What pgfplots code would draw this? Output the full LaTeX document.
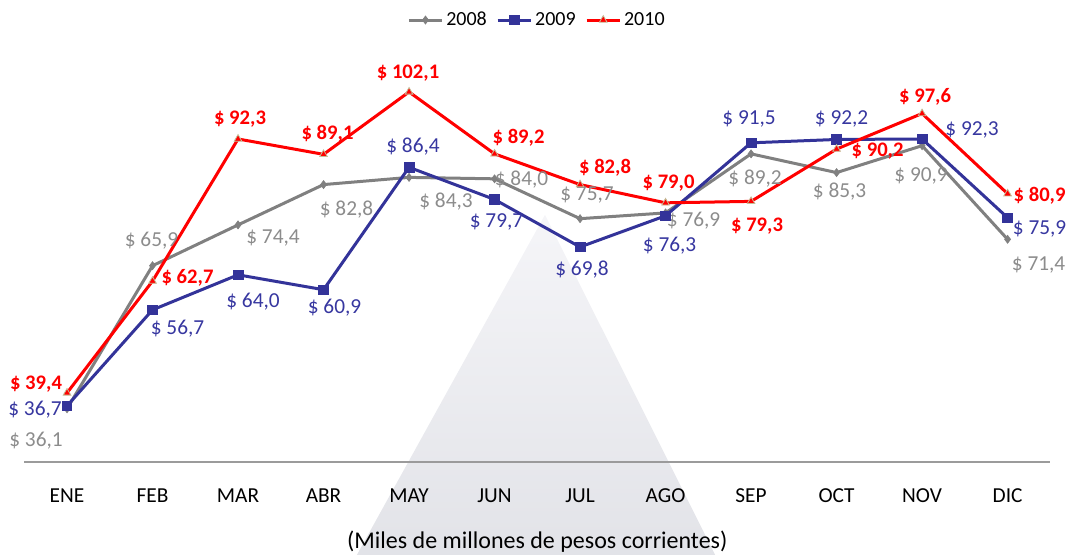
\documentclass[border=0pt]{standalone}
\usepackage{pgfplots}
\pgfplotsset{compat=1.18}
\usepackage{pgfplotstable}
\usepackage{fontspec}
\setmainfont{Carlito}
\definecolor{cg}{RGB}{128,128,128}
\definecolor{cgl}{RGB}{140,140,140}
\definecolor{cb}{RGB}{51,51,153}
\definecolor{cbl}{RGB}{55,55,160}
\definecolor{cr}{RGB}{255,0,0}
\definecolor{ctan}{RGB}{196,189,151}
\definecolor{wmtop}{RGB}{245,245,248}
\definecolor{wmbot}{RGB}{226,227,232}
\definecolor{axc}{RGB}{155,155,155}

\pgfplotstableread{
x y dx dy
0 36.1 -31 -31
1 65.9 -1 26
2 74.4 35 -12
3 82.8 23 -24
4 84.3 37 -23
5 84.0 27 0
6 75.7 7 25
7 76.9 28 -7
8 89.2 4 -24
9 85.3 3 -18
10 90.9 -1 -29
11 71.4 31 -24
}\tA

\pgfplotstableread{
x y dx dy
0 36.7 -32 -3
1 56.7 25 -18
2 64.0 15 -26
3 60.9 11 -17
4 86.4 4 22
5 79.7 2 -21
6 69.8 2 -22
7 76.3 4 -29
8 91.5 -2 25
9 92.2 5 22
10 92.3 50 10
11 75.9 32 -10
}\tB

\pgfplotstableread{
x y dx dy
0 39.4 -31 10
1 62.7 35 5
2 92.3 2 21
3 89.1 4 22
4 102.1 -1 20
5 89.2 24 17
6 82.8 25 18
7 79.0 3 21
8 79.3 6 -23
9 90.2 41 0
10 97.6 3 18
11 80.9 32 -1
}\tC

\begin{document}
\begin{tikzpicture}
\begin{axis}[
  scale only axis, width=769.5pt, height=306pt,
  xmin=-0.5, xmax=11.5, ymin=25, ymax=110,
  axis x line=bottom, axis y line=none,
  x axis line style={-, draw=axc, line width=0.9pt},
  axis on top,
  clip=false,
  xtick={0,...,11},
  xticklabels={ENE,FEB,MAR,ABR,MAY,JUN,JUL,AGO,SEP,OCT,NOV,DIC},
  major tick length=0pt,
  ytick=\empty,
  /pgf/number format/assume math mode=true,
  xticklabel style={anchor=center, yshift=-24.75pt, text height=10.5pt, text depth=0pt, font=\fontsize{16}{19}\selectfont, text=black},
  xlabel={(Miles de millones de pesos corrientes)},
  xlabel style={at={(axis description cs:0.5,0)}, anchor=center, yshift=-60pt, font=\fontsize{18}{21}\selectfont, text=black},
  legend style={at={(axis description cs:0.5,1)}, anchor=center, yshift=25.5pt, draw=none, fill=none,
    legend columns=3, font=\fontsize{15}{18}\selectfont,
    /tikz/every even column/.style={column sep=5pt}},
  legend image code/.code={\draw[mark repeat=2,mark phase=2,#1] plot coordinates {(0pt,0pt) (12.5pt,0pt) (25pt,0pt)};},
  visualization depends on={\thisrow{dx} \as \myDX},
  visualization depends on={\thisrow{dy} \as \myDY},
  nodes near coords={\$ \pgfmathprintnumber[fixed,fixed zerofill,precision=1,use comma]{\pgfplotspointmeta}},
  every node near coord/.append style={anchor=center, xshift=\myDX*0.75pt, yshift=\myDY*0.75pt,
    text height=10.5pt, text depth=0pt, inner sep=0pt, font=\fontsize{16}{19}\selectfont},
]
\shade[top color=wmtop, bottom color=wmbot] (axis cs:5.59,76.5) -- (axis cs:3.39,5.65) -- (axis cs:7.58,5.65) -- cycle;

\addplot[color=cg, line width=2.25pt, mark=diamond*, mark size=3pt,
  mark options={fill=cg, draw=cg, line width=0.5pt},
  every node near coord/.append style={text=cgl}] table[x=x,y=y] {\tA};
\addlegendentry{2008}

\addplot[color=cb, line width=2.25pt, mark=square*, mark size=3.6pt,
  mark options={fill=cb, draw=cb, line width=0.5pt},
  every node near coord/.append style={text=cbl}] table[x=x,y=y] {\tB};
\addlegendentry{2009}

\addplot[color=cr, line width=2.25pt, mark=triangle*, mark size=3.3pt,
  mark options={fill=cr, draw=ctan, line width=0.6pt},
  every node near coord/.append style={text=cr, font=\fontsize{15.5}{18}\selectfont\bfseries}] table[x=x,y=y] {\tC};
\addlegendentry{2010}
\end{axis}
\path[use as bounding box] ([shift={(-18.2pt,-69.75pt)}]current axis.south west) rectangle ([shift={(782pt,346.5pt)}]current axis.south west);
\end{tikzpicture}
\end{document}
